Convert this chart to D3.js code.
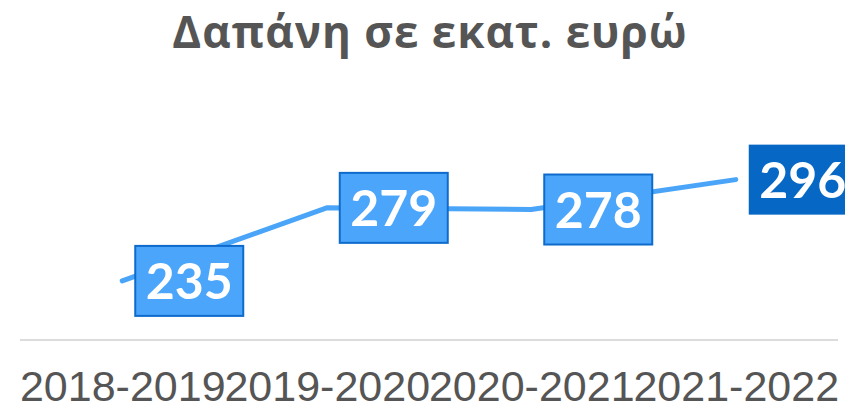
<!DOCTYPE html>
<html><head><meta charset="utf-8">
<script src="https://cdn.jsdelivr.net/npm/d3@7"></script>
<style>body{margin:0;background:#fff;overflow:hidden}svg{display:block}</style>
</head><body>
<script>
const title = "Δαπάνη σε εκατ. ευρώ";
const categories = ["2018-2019", "2019-2020", "2020-2021", "2021-2022"];
const values = [235, 279, 278, 296];
const yTicks = [200];

const W = 845, H = 404;
const svg = d3.select("body").append("svg").attr("width", W).attr("height", H);

const x = d3.scalePoint().domain(categories).range([20, 838]).padding(0.5);
const y = d3.scaleLinear().domain([200, 300]).range([339, 173]);

svg.append("text").attr("x", 430).attr("y", 48).attr("text-anchor", "middle")
  .attr("font-family", "'Open Sans', sans-serif").attr("font-weight", 700).attr("font-size", 44)
  .attr("letter-spacing", 1).attr("fill", "#555").text(title);

// baseline grid
svg.append("g").selectAll("line").data(yTicks).join("line")
  .attr("x1", 20).attr("x2", 838).attr("y1", d => y(d) + 1).attr("y2", d => y(d) + 1)
  .attr("stroke", "#dcdcdc").attr("stroke-width", 2);

// x axis
const xAxis = svg.append("g").attr("transform", "translate(0,340)")
  .call(d3.axisBottom(x).tickSize(0).tickPadding(0));
xAxis.select(".domain").remove();
xAxis.selectAll("text").attr("font-family", "'Liberation Sans', Arial, sans-serif")
  .attr("font-size", 43).attr("fill", "#555").attr("dy", 0).attr("y", 61);

// line
const line = d3.line().x((d, i) => x(categories[i])).y(d => y(d));
svg.append("path").datum(values).attr("d", line).attr("fill", "none")
  .attr("stroke", "#4aa5f8").attr("stroke-width", 5).attr("stroke-linecap", "round")
  .attr("stroke-linejoin", "round");

// labels
const bw = 108, bh = 70;
const g = svg.append("g").selectAll("g").data(values).join("g")
  .attr("transform", (d, i) => `translate(${x(categories[i]) + 13},${y(d) - bh / 2})`);
g.append("rect").attr("width", bw).attr("height", bh)
  .attr("fill", (d, i) => i === values.length - 1 ? "#0667c4" : "#4aa5fb")
  .attr("stroke", (d, i) => i === values.length - 1 ? "none" : "#0e6bcb")
  .attr("stroke-width", 2);
g.append("text").attr("x", bw / 2).attr("y", bh / 2 + 18).attr("text-anchor", "middle")
  .attr("font-family", "Lato, sans-serif").attr("font-weight", 700).attr("font-size", 50)
  .attr("fill", "#fff").text(d => d);
</script>
</body></html>
